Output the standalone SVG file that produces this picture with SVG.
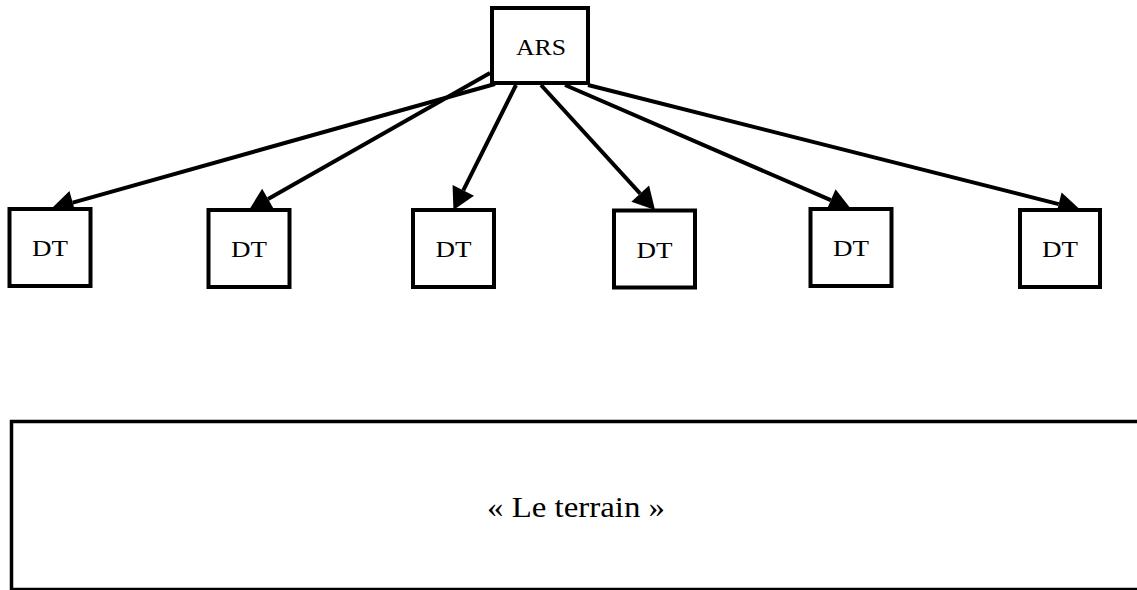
<svg xmlns="http://www.w3.org/2000/svg" width="1137" height="590" viewBox="0 0 1137 590">
<style>
.box{fill:#fff;stroke:#000;stroke-width:4}
.lbl{font-family:"Liberation Serif",serif;font-size:24px;text-anchor:middle;fill:#000}
.edge{stroke:#000;stroke-width:4;fill:none}
.big{font-family:"Liberation Serif",serif;font-size:29px;text-anchor:middle;fill:#000}
</style>
<defs>
<marker id="ah" markerUnits="userSpaceOnUse" orient="auto" refX="0" refY="0" markerWidth="30" markerHeight="30" overflow="visible">
<path d="M0,-12 L22,0 L0,12 Z" fill="#000"/>
</marker>
</defs>
<rect width="1137" height="590" fill="#fff"/>
<g id="edges">
<line class="edge" x1="495" y1="84" x2="72.7" y2="202.6" marker-end="url(#ah)"/>
<line class="edge" x1="490" y1="73" x2="268.1" y2="199.1" marker-end="url(#ah)"/>
<line class="edge" x1="516" y1="85" x2="463.3" y2="190.3" marker-end="url(#ah)"/>
<line class="edge" x1="541" y1="85" x2="640.2" y2="193.7" marker-end="url(#ah)"/>
<line class="edge" x1="565" y1="85" x2="830.8" y2="200.2" marker-end="url(#ah)"/>
<line class="edge" x1="588" y1="85" x2="1058.7" y2="204.1" marker-end="url(#ah)"/>
</g>
<g id="ars"><rect class="box" x="492" y="8" width="96" height="75"/><text class="lbl" x="541" y="55" textLength="50" lengthAdjust="spacingAndGlyphs">ARS</text></g>
<g id="dt1"><rect class="box" x="9.5" y="209" width="81" height="77"/><text class="lbl" x="50" y="256" textLength="36" lengthAdjust="spacingAndGlyphs">DT</text></g>
<g id="dt2"><rect class="box" x="208.5" y="210" width="81" height="77"/><text class="lbl" x="249" y="257" textLength="36" lengthAdjust="spacingAndGlyphs">DT</text></g>
<g id="dt3"><rect class="box" x="413" y="210" width="81" height="77"/><text class="lbl" x="453.5" y="257" textLength="36" lengthAdjust="spacingAndGlyphs">DT</text></g>
<g id="dt4"><rect class="box" x="614" y="210.5" width="81" height="77"/><text class="lbl" x="654.5" y="257.5" textLength="36" lengthAdjust="spacingAndGlyphs">DT</text></g>
<g id="dt5"><rect class="box" x="810.5" y="209" width="81" height="77"/><text class="lbl" x="851" y="256" textLength="36" lengthAdjust="spacingAndGlyphs">DT</text></g>
<g id="dt6"><rect class="box" x="1020" y="210" width="80" height="77"/><text class="lbl" x="1060" y="257" textLength="36" lengthAdjust="spacingAndGlyphs">DT</text></g>
<g id="terrain"><rect x="11.5" y="421.5" width="1140" height="168" fill="#fff" stroke="#000" stroke-width="3.5"/><text class="big" x="576" y="517" textLength="178" lengthAdjust="spacingAndGlyphs">« Le terrain »</text></g>
</svg>
